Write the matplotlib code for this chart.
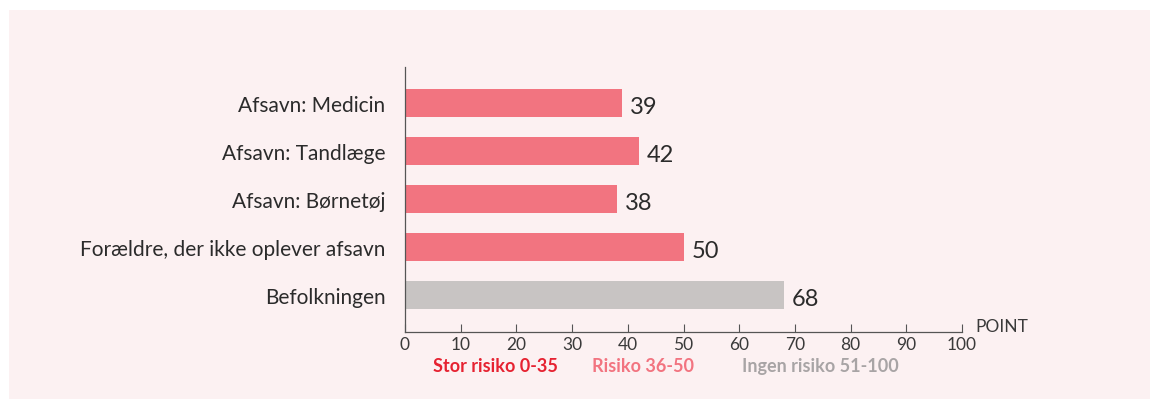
import matplotlib
matplotlib.use("Agg")
import matplotlib.pyplot as plt
import matplotlib.patches as mpatches

categories = [
    "Afsavn: Medicin",
    "Afsavn: Tandlæge",
    "Afsavn: Børnetøj",
    "Forældre, der ikke oplever afsavn",
    "Befolkningen",
]
values = [39, 42, 38, 50, 68]
bar_colors = ["#f27480", "#f27480", "#f27480", "#f27480", "#c8c4c3"]
xticks = [0, 10, 20, 30, 40, 50, 60, 70, 80, 90, 100]
legend_labels = ["Stor risiko 0-35", "Risiko 36-50", "Ingen risiko 51-100"]
legend_colors = ["#e62231", "#f27480", "#a8a4a5"]

BG = "#fcf1f2"
TXT = "#2b2b2b"

plt.rcParams["font.family"] = ["Lato", "DejaVu Sans"]

fig = plt.figure(figsize=(11.61, 4.10), dpi=100)
fig.patch.set_facecolor("white")
fig.patches.append(mpatches.Rectangle((9 / 1161, 10 / 410), 1141 / 1161, 389 / 410,
                                      transform=fig.transFigure, facecolor=BG,
                                      edgecolor="none", zorder=-10))

ax = fig.add_axes([405 / 1161, 1 - 333 / 410, 557 / 1161, 265 / 410])
ax.set_facecolor("none")

pos = list(range(len(categories)))
ax.barh(pos, values, height=0.6, color=bar_colors)
for y, v in zip(pos, values):
    ax.text(v + 1.4, y + 0.07, str(v), va="center", ha="left", fontsize=17, color=TXT)

ax.set_xlim(0, 100)
ax.set_ylim(len(categories) - 0.23, -0.75)
ax.set_yticks(pos)
ax.set_yticklabels(categories, fontsize=15, color=TXT)
ax.tick_params(axis="y", length=0, pad=14)
ax.set_xticks(xticks)
ax.set_xticklabels([str(t) for t in xticks], fontsize=12.5, color="#3a3a3a")
ax.tick_params(axis="x", direction="in", length=6, width=0.8, color="#555555", pad=3)

for s in ["top", "right"]:
    ax.spines[s].set_visible(False)
ax.spines["left"].set_color("#555555")
ax.spines["bottom"].set_color("#555555")
ax.spines["left"].set_linewidth(0.9)
ax.spines["bottom"].set_linewidth(0.9)

fig.text(975 / 1161, 1 - 327 / 410, "POINT", fontsize=12.5, color="#3a3a3a",
         va="center", ha="left")

legend_x = [433, 592, 742]
for x, lab, c in zip(legend_x, legend_labels, legend_colors):
    fig.text(x / 1161, 1 - 367 / 410, lab, fontsize=13, fontweight="bold", color=c,
             va="center", ha="left")

fig.savefig("out.png", dpi=100, facecolor=fig.get_facecolor())
